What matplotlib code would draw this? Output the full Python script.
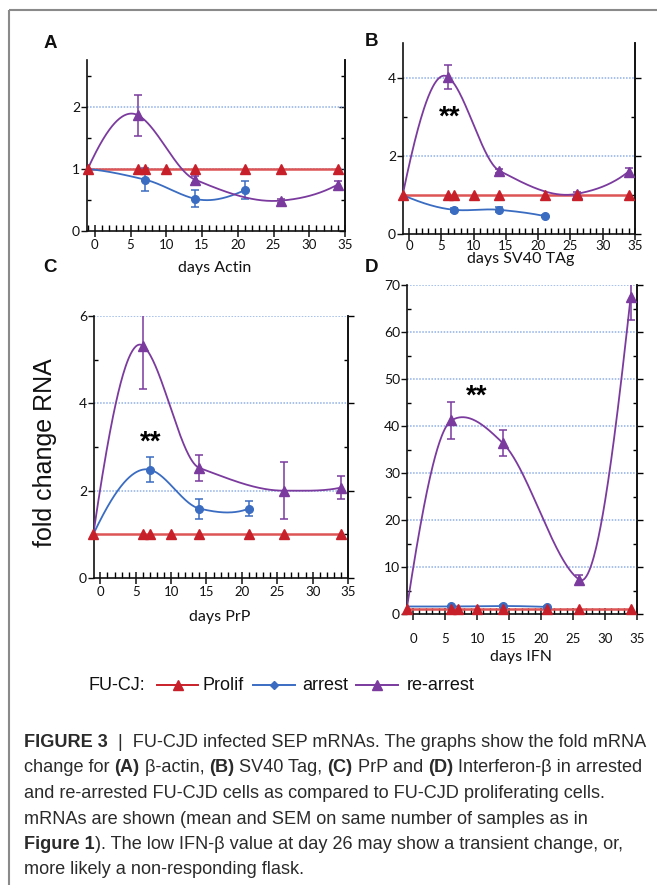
import numpy as np
import matplotlib
matplotlib.use("Agg")
import matplotlib.pyplot as plt
from matplotlib.ticker import MultipleLocator

# ---------------- data ----------------
prolif_days = [-1, 6, 7, 10, 14, 21, 26, 34]
arrest_days = [-1, 7, 14, 21]
arrest_days_ifn = [-1, 6, 14, 21]
rearrest_days = [-1, 6, 14, 26, 34]

actin_prolif = [1.0, 1.0, 1.0, 1.0, 1.0, 1.0, 1.0, 1.0]
actin_arrest = [1.0, 0.83, 0.52, 0.66]
actin_arrest_err = [0.0, 0.18, 0.14, 0.15]
actin_rearrest = [1.0, 1.87, 0.83, 0.49, 0.75]
actin_rearrest_err = [0.0, 0.33, 0.05, 0.03, 0.05]

sv40_prolif = [1.0, 1.0, 1.0, 1.0, 1.0, 1.0, 1.0, 1.0]
sv40_arrest = [1.0, 0.62, 0.62, 0.46]
sv40_arrest_err = [0.0, 0.05, 0.06, 0.03]
sv40_rearrest = [1.0, 4.03, 1.62, 1.03, 1.60]
sv40_rearrest_err = [0.0, 0.30, 0.05, 0.06, 0.10]

prp_prolif = [1.0, 1.0, 1.0, 1.0, 1.0, 1.0, 1.0, 1.0]
prp_arrest = [1.0, 2.48, 1.59, 1.59]
prp_arrest_err = [0.0, 0.28, 0.23, 0.18]
prp_rearrest = [1.0, 5.32, 2.52, 2.00, 2.07]
prp_rearrest_err = [0.0, 1.00, 0.29, 0.66, 0.27]

ifn_prolif = [1.0, 1.0, 1.0, 1.0, 1.0, 1.0, 1.0, 1.0]
ifn_arrest = [1.6, 1.6, 1.7, 1.5]
ifn_arrest_err = [0.0, 0.2, 0.3, 0.2]
ifn_rearrest = [1.0, 41.2, 36.4, 7.3, 67.4]
ifn_rearrest_err = [0.0, 3.9, 2.7, 0.9, 4.9]

xlabels = ["days Actin", "days SV40 TAg", "days PrP", "days IFN"]
panel_letters = ["A", "B", "C", "D"]
legend_labels = ["Prolif", "arrest", "re-arrest"]

RED, RED_L = "#c8202a", "#dd5555"
BLUE = "#3a6cc2"
PURPLE = "#7b3b9e"
GRID = "#8fb0e6"

W, H = 657, 885
fig = plt.figure(figsize=(W / 100, H / 100), dpi=100)

TICKFONT = "Lato"


def akima(x, y, n=300):
    """Akima spline through the given points (curve drawing only)."""
    x = np.asarray(x, float)
    y = np.asarray(y, float)
    m = np.diff(y) / np.diff(x)
    mm = np.empty(len(m) + 4)
    mm[2:-2] = m
    mm[1] = 2 * mm[2] - mm[3]
    mm[0] = 2 * mm[1] - mm[2]
    mm[-2] = 2 * mm[-3] - mm[-4]
    mm[-1] = 2 * mm[-2] - mm[-3]
    s = np.empty(len(x))
    for i in range(len(x)):
        m0, m1, m2, m3 = mm[i], mm[i + 1], mm[i + 2], mm[i + 3]
        w1 = abs(m3 - m2)
        w2 = abs(m1 - m0)
        if w1 + w2 < 1e-12:
            s[i] = 0.5 * (m1 + m2)
        else:
            s[i] = (w1 * m1 + w2 * m2) / (w1 + w2)
    xs = np.linspace(x[0], x[-1], n)
    idx = np.clip(np.searchsorted(x, xs) - 1, 0, len(x) - 2)
    h = x[idx + 1] - x[idx]
    t = (xs - x[idx]) / h
    h00 = 2 * t ** 3 - 3 * t ** 2 + 1
    h10 = t ** 3 - 2 * t ** 2 + t
    h01 = -2 * t ** 3 + 3 * t ** 2
    h11 = t ** 3 - t ** 2
    ys = h00 * y[idx] + h10 * h * s[idx] + h01 * y[idx + 1] + h11 * h * s[idx + 1]
    return xs, ys


def make_axes(l, t, r, b):
    return fig.add_axes([l / W, 1 - b / H, (r - l) / W, (b - t) / H])


panels = [
    dict(box=(87, 60, 345, 231), xmin=-1.1, ymax=2.76, major=1, minor=0.5,
         prolif=actin_prolif, arrest=actin_arrest, arrest_err=actin_arrest_err,
         rear=actin_rearrest, rear_err=actin_rearrest_err, adays=arrest_days,
         stars=None, right_dir="in", xpad=1),
    dict(box=(403, 43, 635, 234), xmin=-0.95, ymax=4.9, major=2, minor=1,
         prolif=sv40_prolif, arrest=sv40_arrest, arrest_err=sv40_arrest_err,
         rear=sv40_rearrest, rear_err=sv40_rearrest_err, adays=arrest_days,
         stars=(6.3, 2.98), right_dir="out", xpad=0),
    dict(box=(94, 316, 348, 578), xmin=-0.9, ymax=6.0, major=2, minor=1,
         prolif=prp_prolif, arrest=prp_arrest, arrest_err=prp_arrest_err,
         rear=prp_rearrest, rear_err=prp_rearrest_err, adays=arrest_days,
         stars=(7.1, 3.1), right_dir="out", xpad=1),
    dict(box=(407, 285, 637, 614), xmin=-0.95, ymax=70, major=10, minor=5,
         prolif=ifn_prolif, arrest=ifn_arrest, arrest_err=ifn_arrest_err,
         rear=ifn_rearrest, rear_err=ifn_rearrest_err, adays=arrest_days_ifn,
         stars=(10.0, 46.3), right_dir="out", xpad=9),
]

for p in panels:
    ax = make_axes(*p["box"])
    ax.set_facecolor("none")
    ax.set_xlim(p["xmin"], 35)
    ax.set_ylim(0, p["ymax"])
    ax.spines["top"].set_visible(False)
    for s in ["left", "bottom", "right"]:
        ax.spines[s].set_linewidth(1.2)
        ax.spines[s].set_color("#111111")
    ax.xaxis.set_major_locator(MultipleLocator(5))
    ax.xaxis.set_minor_locator(MultipleLocator(1))
    ax.yaxis.set_major_locator(MultipleLocator(p["major"]))
    ax.yaxis.set_minor_locator(MultipleLocator(p["minor"]))
    ax.tick_params(axis="x", which="major", direction="inout", length=9, width=1.1,
                   labelsize=9.5, pad=p["xpad"], colors="#111111")
    ax.tick_params(axis="x", which="minor", direction="in", length=4, width=1.0)
    ax.tick_params(axis="y", which="major", direction="out", length=4, width=1.0,
                   labelsize=10, pad=1, colors="#111111")
    ax.tick_params(axis="y", which="minor", direction="in", length=3, width=1.0)
    for lab in ax.get_xticklabels() + ax.get_yticklabels():
        lab.set_fontfamily(TICKFONT)
    for v in np.arange(p["major"], p["ymax"] + 1e-6, p["major"]):
        ax.axhline(v, color=GRID, lw=1.1, ls=(0, (1, 1)), zorder=1)
    ax2 = ax.twinx()
    ax2.set_ylim(0, p["ymax"])
    ax2.yaxis.set_major_locator(MultipleLocator(p["major"]))
    ax2.yaxis.set_minor_locator(MultipleLocator(p["minor"]))
    ax2.tick_params(axis="y", which="major", direction=p["right_dir"], length=4,
                    width=1.0, labelright=False)
    ax2.tick_params(axis="y", which="minor", direction="in", length=3, width=1.0)
    for s in ["left", "top", "bottom"]:
        ax2.spines[s].set_visible(False)
    ax2.spines["right"].set_linewidth(1.2)
    ax2.spines["right"].set_color("#111111")
    ax.set_zorder(ax2.get_zorder() + 1)

    ax.plot(prolif_days, p["prolif"], color=RED_L, lw=1.8, zorder=3, clip_on=False)
    ax.plot(prolif_days, p["prolif"], ls="none", marker="^", ms=6.5, color=RED,
            zorder=6, clip_on=False)
    xs, ys = akima(p["adays"], p["arrest"])
    ax.plot(xs, ys, color=BLUE, lw=1.3, zorder=4)
    ax.errorbar(p["adays"][1:], p["arrest"][1:], yerr=p["arrest_err"][1:], fmt="o",
                ms=5.5, color=BLUE, ecolor=BLUE, elinewidth=1.1, capsize=3,
                capthick=1.1, zorder=4)
    xs, ys = akima(rearrest_days, p["rear"])
    ax.plot(xs, ys, color=PURPLE, lw=1.3, zorder=5)
    ax.errorbar(rearrest_days[1:], p["rear"][1:], yerr=p["rear_err"][1:], fmt="^",
                ms=6.5, color=PURPLE, ecolor=PURPLE, elinewidth=1.1, capsize=3,
                capthick=1.1, zorder=5)
    if p["stars"] is not None:
        ax.text(p["stars"][0], p["stars"][1], "**", fontsize=20, fontweight="bold",
                ha="center", va="center", family="Liberation Sans", zorder=7)

# ---------------- overlay in pixel coordinates ----------------
ov = fig.add_axes([0, 0, 1, 1], zorder=-5)
ov.set_xlim(0, W)
ov.set_ylim(H, 0)
ov.axis("off")
ov.patch.set_alpha(0)

ov.plot([9, W], [10, 10], color="#8a8a8a", lw=1.5, solid_capstyle="butt")
ov.plot([9, 9], [10, H], color="#8a8a8a", lw=1.5, solid_capstyle="butt")

xlab_pos = [(215, 268), (521, 259), (220, 617), (521, 657)]
for (x, y), s in zip(xlab_pos, xlabels):
    ov.text(x, y, s, ha="center", va="center", fontsize=11.5, family=TICKFONT,
            color="#111111")

letter_pos = [(50, 43), (371, 42), (50, 268), (371, 268)]
for (x, y), s in zip(letter_pos, panel_letters):
    ov.text(x, y, s, ha="center", va="center", fontsize=13.5, fontweight="bold",
            family="Liberation Sans", color="#111111")

ov.text(45, 453, "fold change RNA", rotation=90, ha="center", va="center",
        fontsize=18, family="Liberation Sans", color="#111111")

LY = 685
ov.text(88, LY, "FU-CJ:", ha="left", va="center", fontsize=13,
        family="Liberation Sans", color="#111111")
leg = [((157, 198), RED, "^", 6.5, 202), ((253, 295), BLUE, "D", 4.5, 302),
       ((356, 398), PURPLE, "^", 6.5, 407)]
for ((x0, x1), c, mk, ms, tx), lab in zip(leg, legend_labels):
    ov.plot([x0, x1], [LY, LY], color=c, lw=1.4)
    ov.plot([(x0 + x1) / 2], [LY], marker=mk, ms=ms, color=c, ls="none")
    ov.text(tx, LY, lab, ha="left", va="center", fontsize=13,
            family="Liberation Sans", color="#111111")

# ---- caption ----
CAPFONT = "Liberation Sans"
CAPCOL = "#2b2b2b"
caption = [
    [("FIGURE 3", True), ("  |  FU-CJD infected SEP mRNAs. The graphs show the fold mRNA", False)],
    [("change for ", False), ("(A)", True), (" \u03b2-actin, ", False), ("(B)", True),
     (" SV40 Tag, ", False), ("(C)", True), (" PrP and ", False), ("(D)", True),
     (" Interferon-\u03b2 in arrested", False)],
    [("and re-arrested FU-CJD cells as compared to FU-CJD proliferating cells.", False)],
    [("mRNAs are shown (mean and SEM on same number of samples as in", False)],
    [("Figure 1", True), ("). The low IFN-\u03b2 value at day 26 may show a transient change, or,", False)],
    [("more likely a non-responding flask.", False)],
]
renderer = fig.canvas.get_renderer()


def cap_kw(bold, size):
    return dict(fontsize=size, family=[CAPFONT, "DejaVu Sans"],
                fontweight="bold" if bold else "normal")


def run_width(s, bold, size):
    t1 = ov.text(0, 0, "x" + s + "x", **cap_kw(bold, size))
    t2 = ov.text(0, 0, "xx", **cap_kw(bold, size))
    w = t1.get_window_extent(renderer).width - t2.get_window_extent(renderer).width
    t1.remove()
    t2.remove()
    return w


base = 12.0
w0 = sum(run_width(s, b, base) for s, b in caption[0])
capsize = base * (624.0 / w0)
x0 = 24
baselines = [747, 772.5, 798, 823.5, 849, 874.5]
for line, yb in zip(caption, baselines):
    x = x0
    for s, b in line:
        ov.text(x, yb, s, ha="left", va="baseline", color=CAPCOL, **cap_kw(b, capsize))
        x += run_width(s, b, capsize)

fig.savefig("out.png", dpi=100)
